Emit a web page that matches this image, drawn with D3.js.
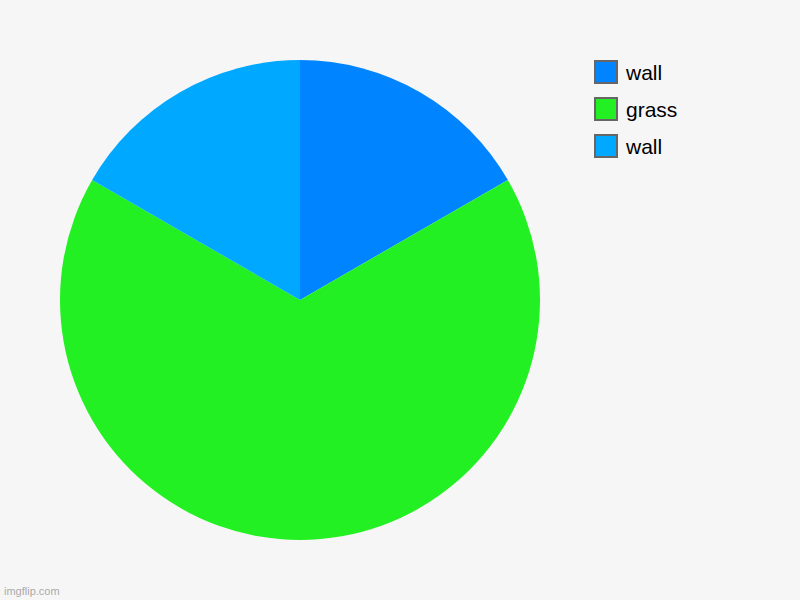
<!DOCTYPE html>
<html><head><meta charset="utf-8">
<script src="https://cdn.jsdelivr.net/npm/d3@7"></script>
<style>html,body{margin:0;padding:0;background:#f6f6f6;}svg{display:block;}</style>
</head><body>
<svg id="c" width="800" height="600"></svg>
<script>
const categories = ["wall", "grass", "wall"];
const values = [1, 4, 1];
const colors = ["#0084ff", "#22f022", "#00a8ff"];

const svg = d3.select("#c");
svg.append("rect").attr("width", 800).attr("height", 600).attr("fill", "#f6f6f6");

const data = categories.map((c, i) => ({ name: c, value: values[i], color: colors[i] }));
const pie = d3.pie().value(d => d.value).sort(null);
const arc = d3.arc().innerRadius(0).outerRadius(240);

const g = svg.append("g").attr("transform", "translate(300,300)");
g.selectAll("path").data(pie(data)).enter().append("path")
  .attr("d", arc).attr("fill", d => d.data.color);

const legendY = d3.scaleBand().domain(d3.range(data.length)).range([60, 171]).paddingInner(0);
const lg = svg.append("g");
const items = lg.selectAll("g").data(data).enter().append("g")
  .attr("transform", (d, i) => `translate(595,${legendY(i)})`);
items.append("rect").attr("x", 0).attr("y", 1).attr("width", 22).attr("height", 22)
  .attr("fill", d => d.color).attr("stroke", "#666").attr("stroke-width", 2);
items.append("text").attr("x", 31).attr("y", 20)
  .attr("font-family", "Arial, 'Liberation Sans', sans-serif").attr("font-size", 21)
  .attr("fill", "#000").text(d => d.name);

svg.append("text").attr("x", 4).attr("y", 595)
  .attr("font-family", "Arial, 'Liberation Sans', sans-serif").attr("font-size", 11)
  .attr("fill", "#aaa").text("imgflip.com");
</script>
</body></html>
